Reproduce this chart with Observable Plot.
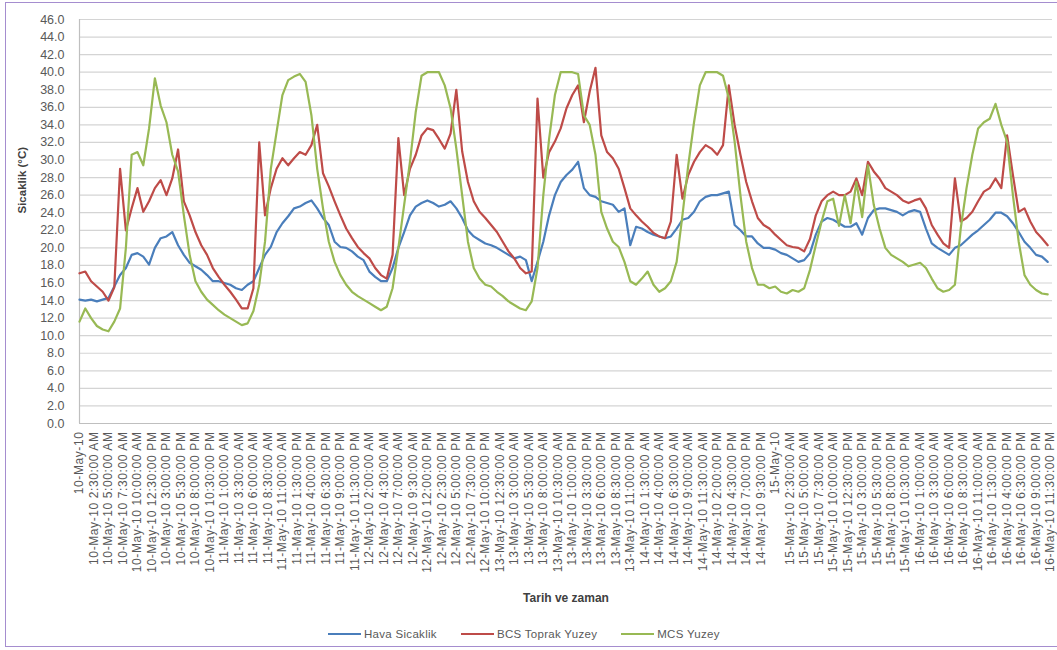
<!DOCTYPE html>
<html>
<head>
<meta charset="utf-8">
<script src="https://cdn.jsdelivr.net/npm/d3@7"></script>
<script src="https://cdn.jsdelivr.net/npm/@observablehq/plot@0.6"></script>
<style>
  html, body { margin: 0; padding: 0; background: #fff; }
  body { width: 1057px; height: 650px; position: relative; overflow: hidden; font-family: "Liberation Sans", Arial, sans-serif; }
  #frame { position: absolute; left: 5px; top: 2px; width: 1060px; height: 645px; border: 1.5px solid #a58dcf; box-sizing: border-box; }
  #chart { position: absolute; left: 0; top: 0; }
  #legend { position: absolute; left: 328px; top: 628px; display: flex; gap: 24px; font-size: 11.5px; letter-spacing: 0.3px; color: #595959; align-items: center; }
  .item { display: flex; align-items: center; gap: 3px; }
  .sw { width: 33px; height: 2.5px; }
</style>
</head>
<body>
<div id="frame"></div>
<div id="chart"></div>
<div id="legend"></div>
<script>
// Start of record (UTC), hourly readings
const startTime = Date.UTC(2010, 4, 10, 0, 0);
const stepHours = 1;

const seriesNames = ["Hava Sicaklik", "BCS Toprak Yuzey", "MCS Yuzey"];
const seriesColors = ["#4a7ebb", "#be4b48", "#98b954"];

const hava = [
  14.1, 14.0, 14.1, 13.9, 14.1, 14.3, 15.6, 16.9, 17.7, 19.2,
  19.4, 19.0, 18.1, 20.0, 21.1, 21.3, 21.8, 20.3, 19.2, 18.3,
  17.9, 17.5, 16.9, 16.2, 16.2, 16.0, 15.8, 15.4, 15.2, 15.8,
  16.2, 17.7, 19.2, 20.1, 21.8, 22.8, 23.6, 24.5, 24.7, 25.1,
  25.4, 24.5, 23.4, 22.6, 20.7, 20.1, 20.0, 19.6, 19.0, 18.6,
  17.3, 16.7, 16.2, 16.2, 17.7, 20.0, 21.8, 23.7, 24.7, 25.1,
  25.4, 25.1, 24.7, 24.9, 25.3, 24.5, 23.4, 22.0, 21.3, 20.9,
  20.5, 20.3, 20.0, 19.6, 19.2, 18.8, 19.0, 18.6, 16.2, 18.4,
  20.7, 23.7, 26.0, 27.5, 28.3, 28.9, 29.8, 26.8, 26.0, 25.8,
  25.3, 25.1, 24.9, 24.1, 24.5, 20.3, 22.4, 22.2, 21.8, 21.5,
  21.3, 21.1, 21.3, 22.2, 23.2, 23.4, 24.1, 25.3, 25.8, 26.0,
  26.0, 26.2, 26.4, 22.6, 22.0, 21.3, 21.3, 20.5, 20.0, 20.0,
  19.8, 19.4, 19.2, 18.8, 18.4, 18.6, 19.4, 21.5, 23.0, 23.4,
  23.2, 22.8, 22.4, 22.4, 22.8, 21.5, 23.4, 24.3, 24.5, 24.5,
  24.3, 24.1, 23.7, 24.1, 24.3, 24.1, 22.2, 20.5, 20.0, 19.6,
  19.2, 20.0, 20.3, 20.9, 21.5, 22.0, 22.6, 23.2, 24.0, 24.0,
  23.6, 22.8, 21.8, 20.7, 20.0, 19.2, 19.0, 18.4
];

const bcs = [
  17.1, 17.3, 16.2, 15.6, 15.0, 14.0, 15.5, 29.0, 22.0, 24.5,
  26.8, 24.1, 25.3, 26.8, 27.7, 26.0, 27.9, 31.2, 25.3, 23.7,
  21.8, 20.3, 19.2, 17.7, 16.7, 15.8, 15.0, 14.1, 13.1, 13.1,
  15.4, 32.0, 23.7, 26.8, 29.0, 30.2, 29.4, 30.2, 30.9, 30.6,
  31.7, 34.0, 28.5, 27.0, 25.3, 23.7, 22.2, 21.1, 20.1, 19.4,
  18.8, 17.7, 16.9, 16.5, 19.2, 32.5, 26.0, 29.0, 30.6, 32.8,
  33.6, 33.4, 32.4, 31.3, 33.0, 38.0, 31.0, 27.5, 25.3, 24.1,
  23.4, 22.6, 21.8, 20.7, 19.6, 18.8, 17.7, 17.1, 17.3, 37.0,
  28.0, 30.9, 32.1, 33.6, 35.9, 37.4, 38.5, 34.3, 37.8, 40.5,
  32.8, 30.9, 30.2, 29.0, 26.8, 24.5, 23.7, 23.0, 22.4, 21.7,
  21.3, 21.1, 23.0, 30.6, 25.6, 28.3, 29.8, 30.9, 31.7, 31.3,
  30.6, 31.7, 38.5, 34.0, 30.6, 27.5, 25.3, 23.4, 22.6, 22.2,
  21.5, 20.9, 20.3, 20.1, 20.0, 19.6, 21.0, 23.7, 25.3, 26.0,
  26.4, 26.0, 26.0, 26.4, 27.9, 26.0, 29.8, 28.7, 27.9, 26.8,
  26.4, 26.0, 25.4, 25.1, 25.4, 25.6, 24.5, 22.6, 21.5, 20.5,
  20.0, 27.9, 23.0, 23.4, 24.1, 25.3, 26.4, 26.8, 27.9, 26.8,
  32.8, 28.3, 24.1, 24.5, 23.0, 21.8, 21.1, 20.3
];

const mcs = [
  11.6, 13.1, 12.0, 11.1, 10.7, 10.5, 11.6, 13.1, 20.0, 30.6,
  30.9, 29.4, 33.6, 39.3, 36.2, 34.3, 30.6, 28.7, 23.7, 19.2,
  16.2, 15.0, 14.1, 13.5, 12.9, 12.4, 12.0, 11.6, 11.2, 11.4,
  12.8, 15.8, 20.7, 29.0, 33.2, 37.4, 39.1, 39.5, 39.8, 38.9,
  35.1, 29.0, 24.5, 20.7, 18.4, 16.9, 15.8, 15.0, 14.5, 14.1,
  13.7, 13.3, 12.9, 13.3, 15.4, 20.0, 24.9, 29.8, 35.5, 39.6,
  40.0, 40.0, 40.0, 38.5, 35.9, 31.3, 26.0, 20.7, 17.7, 16.5,
  15.8, 15.6, 15.0, 14.5, 13.9, 13.5, 13.1, 12.9, 13.9, 17.7,
  26.0, 32.4, 37.4, 40.0, 40.0, 40.0, 39.8, 35.1, 34.0, 30.6,
  24.1, 22.2, 20.7, 20.1, 18.4, 16.2, 15.8, 16.5, 17.3, 15.8,
  15.0, 15.4, 16.2, 18.4, 23.7, 29.4, 34.3, 38.5, 40.0, 40.0,
  40.0, 39.6, 37.0, 32.1, 26.0, 20.7, 17.7, 15.8, 15.8, 15.4,
  15.6, 15.0, 14.8, 15.2, 15.0, 15.4, 17.5, 20.3, 23.0, 25.3,
  25.6, 22.5, 26.0, 22.8, 27.5, 23.5, 29.4, 24.9, 22.2, 20.0,
  19.2, 18.8, 18.4, 17.9, 18.1, 18.3, 17.7, 16.5, 15.4, 15.0,
  15.2, 15.8, 22.2, 26.8, 30.6, 33.6, 34.3, 34.7, 36.4, 34.0,
  32.1, 26.0, 20.7, 16.9, 15.8, 15.2, 14.8, 14.7
];

const yTicks = d3.range(0, 46.01, 2);
const xTickStepHours = 2.5;
const lastHour = 167.83;

const H = 3600e3;
const rows = [];
[hava, bcs, mcs].forEach((arr, si) => {
  arr.forEach((v, i) => rows.push({t: new Date(startTime + i * stepHours * H), v, s: seriesNames[si]}));
});

const xTicks = d3.range(0, 168, xTickStepHours).map(h => new Date(startTime + h * H));
const fDay = d3.utcFormat("%-d-%b-%y");
const fTime = d3.utcFormat("%-I:%M:%S %p");
const fmtX = d => (d.getUTCHours() === 0 && d.getUTCMinutes() === 0) ? fDay(d) : fDay(d) + " " + fTime(d);

const chart = Plot.plot({
  width: 1057,
  height: 616,
  marginLeft: 79,
  marginRight: 5,
  marginTop: 19,
  marginBottom: 193,
  style: {fontFamily: "'Liberation Sans', Arial, sans-serif", color: "#595959", background: "transparent", overflow: "visible"},
  x: {type: "utc", domain: [new Date(startTime), new Date(startTime + lastHour * H)]},
  y: {domain: [0, 46]},
  color: {domain: seriesNames, range: seriesColors},
  marks: [
    Plot.gridY(yTicks, {stroke: "#d4d4d4", strokeOpacity: 1, strokeWidth: 1.2}),
    Plot.ruleX([new Date(startTime)], {stroke: "#bfbfbf", strokeWidth: 1.2}),
    Plot.ruleY([0], {stroke: "#bfbfbf", strokeWidth: 1.2}),
    Plot.axisY(yTicks, {tickFormat: d => d.toFixed(1), tickSize: 0, tickPadding: 15, fontSize: 12.5, label: null}),
    Plot.axisX(xTicks, {tickFormat: fmtX, tickRotate: -90, tickSize: 0, tickPadding: 8, fontSize: 12, label: null}),
    Plot.line(rows, {x: "t", y: "v", z: "s", stroke: "s", strokeWidth: 2.2, curve: "linear"}),
    Plot.text(["Sicaklik (°C)"], {frameAnchor: "left", dx: -57, dy: -8, rotate: -90, fontWeight: "bold", fontSize: 11.5, fill: "#404040"}),
    Plot.text(["Tarih ve zaman"], {frameAnchor: "bottom", dy: 178, fontWeight: "bold", fontSize: 12, fill: "#404040"})
  ]
});
d3.select(chart).selectAll('g[aria-label="x-axis tick label"]').attr("letter-spacing", "0.6px");
document.getElementById("chart").appendChild(chart);

const legend = document.getElementById("legend");
seriesNames.forEach((name, i) => {
  const item = document.createElement("div");
  item.className = "item";
  const sw = document.createElement("span");
  sw.className = "sw";
  sw.style.background = seriesColors[i];
  const lab = document.createElement("span");
  lab.textContent = name;
  item.appendChild(sw);
  item.appendChild(lab);
  legend.appendChild(item);
});
</script>
</body>
</html>
